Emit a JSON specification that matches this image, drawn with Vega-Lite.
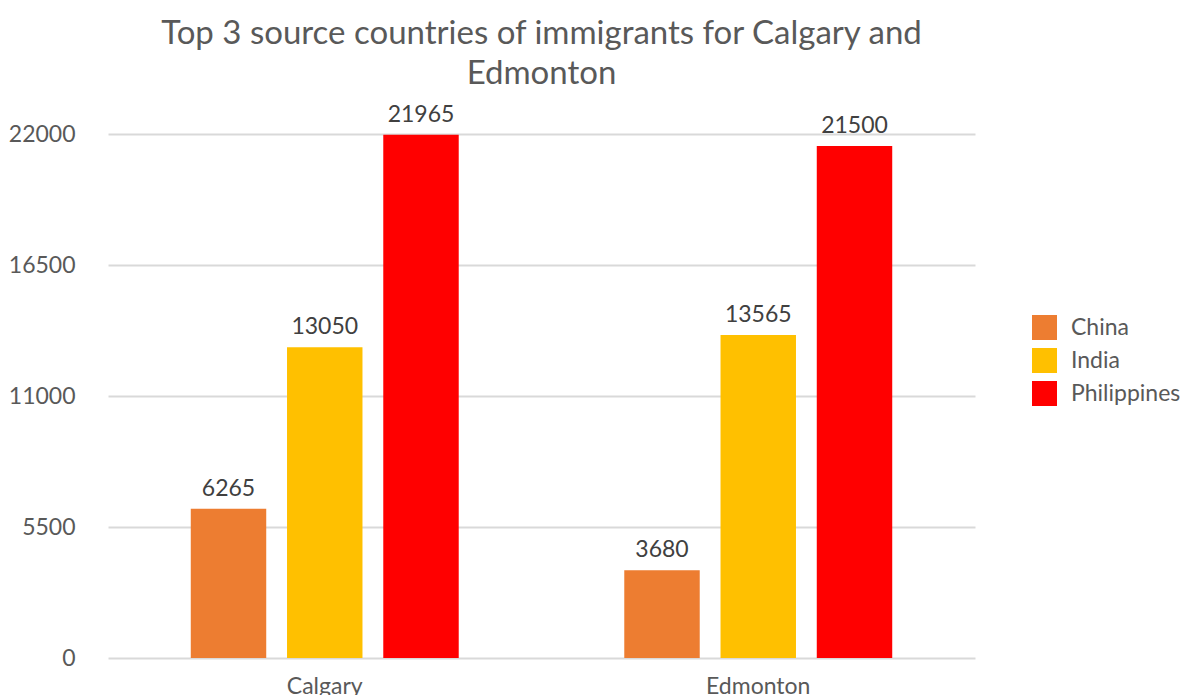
{
  "$schema": "https://vega.github.io/schema/vega-lite/v6.json",
  "width": 867,
  "height": 524,
  "autosize": "none",
  "padding": {"left": 108, "top": 134, "right": 225, "bottom": 37},
  "background": "white",
  "title": {
    "text": ["Top 3 source countries of immigrants for Calgary and", "Edmonton"],
    "font": "Lato",
    "fontSize": 33,
    "fontWeight": "normal",
    "color": "#595959",
    "anchor": "middle",
    "lineHeight": 40,
    "offset": 13
  },
  "data": {
    "values": [
      {"city": "Calgary", "country": "China", "value": 6265},
      {"city": "Calgary", "country": "India", "value": 13050},
      {"city": "Calgary", "country": "Philippines", "value": 21965},
      {"city": "Edmonton", "country": "China", "value": 3680},
      {"city": "Edmonton", "country": "India", "value": 13565},
      {"city": "Edmonton", "country": "Philippines", "value": 21500}
    ]
  },
  "encoding": {
    "x": {
      "field": "city", "type": "nominal",
      "scale": {"paddingInner": 0, "paddingOuter": 0},
      "axis": {
        "title": null, "labelAngle": 0, "labelFont": "Lato", "labelFontSize": 23,
        "labelColor": "#595959", "ticks": false, "domain": false, "labelPadding": 17
      }
    },
    "xOffset": {
      "field": "country", "type": "nominal",
      "scale": {"paddingInner": 0.216, "paddingOuter": 0.86}
    },
    "y": {
      "field": "value", "type": "quantitative",
      "scale": {"domain": [0, 22000], "nice": false},
      "axis": {
        "title": null, "values": [0, 5500, 11000, 16500, 22000], "format": "d",
        "labelFont": "Lato", "labelFontSize": 23, "labelColor": "#595959",
        "ticks": false, "domain": false, "labelPadding": 33,
        "gridColor": "#d9d9d9", "gridWidth": 2
      }
    }
  },
  "layer": [
    {
      "mark": {"type": "bar"},
      "encoding": {
        "color": {
          "field": "country", "type": "nominal",
          "scale": {"domain": ["China", "India", "Philippines"], "range": ["#ED7D31", "#FFC000", "#FF0000"]},
          "legend": {
            "title": null, "orient": "none", "legendX": 924, "legendY": 181,
            "symbolType": "square", "symbolSize": 625, "symbolStrokeWidth": 0,
            "labelFont": "Lato", "labelFontSize": 23, "labelColor": "#595959",
            "rowPadding": 8, "labelOffset": 14, "labelLimit": 200
          }
        }
      }
    },
    {
      "mark": {"type": "text", "dy": -20, "font": "Lato", "fontSize": 23, "color": "#404040"},
      "encoding": {"text": {"field": "value", "type": "quantitative", "format": "d"}}
    }
  ],
  "config": {"view": {"stroke": null}}
}
